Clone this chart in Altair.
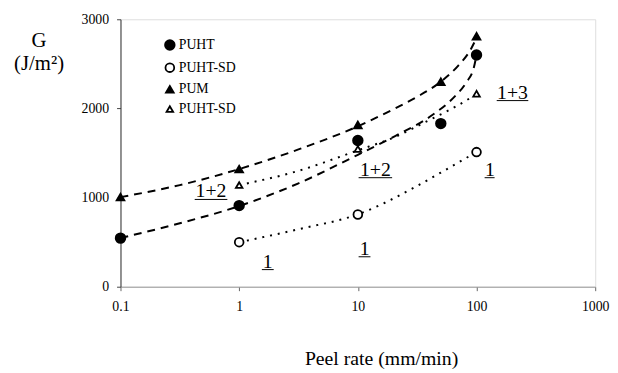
import altair as alt
import pandas as pd

# ---- measured points ----
series_keys = ["s1", "s2", "s3", "s4"]
series_names = ["PUHT", "PUHT-SD", "PUM", "PUHT-SD"]
series_shapes = ["circle", "circle", "triangle-up", "triangle-up"]
series_fills = ["black", "white", "black", "white"]
series_strokes = ["black", "black", "black", "black"]
series_sizes = [95, 45, 95, 62]

rate_s1 = [0.1, 1, 10, 50, 100]
g_s1 = [545, 910, 1640, 1830, 2600]
rate_s2 = [1, 10, 100]
g_s2 = [500, 810, 1510]
rate_s3 = [0.1, 1, 10, 50, 100]
g_s3 = [1005, 1320, 1815, 2300, 2810]
rate_s4 = [1, 10, 100]
g_s4 = [1140, 1545, 2165]

# ---- trend curves ----
curve_pum_x = [0.1, 0.316, 1, 3.16, 10, 20.6, 31.6, 50, 70.2, 88.3, 100]
curve_pum_g = [1005, 1140, 1320, 1540, 1800, 2000, 2130, 2300, 2480, 2650, 2790]
curve_puht_x = [0.1, 0.316, 1, 3.16, 10, 20.6, 41.8, 65, 81.8, 95.4, 100]
curve_puht_g = [546, 712, 905, 1160, 1480, 1690, 1920, 2130, 2290, 2470, 2600]
curve_tri_x = [1, 3.16, 10, 20.6, 38.7, 68.7, 100]
curve_tri_g = [1140, 1300, 1530, 1680, 1860, 2030, 2160]
curve_circ_x = [1, 3.16, 10, 31.6, 50, 100]
curve_circ_g = [499, 645, 812, 1130, 1280, 1511]

# ---- annotation labels ----
lab_text = ["1+2", "1+2", "1+3", "1", "1", "1"]
lab_x = [0.579, 14.05, 201, 129.5, 1.74, 11.4]
lab_g = [1012, 1245, 2110, 1245, 214, 358]
lab_x1 = [0.422, 10.15, 148, 117, 1.553, 10.15]
lab_x2 = [0.795, 19.45, 273, 142, 1.954, 12.77]
lab_gu = [979, 1223, 2088, 1223, 192, 336]

FONT = "Liberation Serif, Times New Roman, DejaVu Serif, serif"

rows = []
for key, xs, gs in [("s1", rate_s1, g_s1), ("s2", rate_s2, g_s2),
                    ("s3", rate_s3, g_s3), ("s4", rate_s4, g_s4)]:
    for x, g in zip(xs, gs):
        rows.append({"rate": x, "G": g, "series": key})
pts = pd.DataFrame(rows)

crow = []
for cid, style, xs, gs in [("pum", "dash", curve_pum_x, curve_pum_g),
                           ("puht", "dash", curve_puht_x, curve_puht_g),
                           ("tri", "dot", curve_tri_x, curve_tri_g),
                           ("circ", "dot", curve_circ_x, curve_circ_g)]:
    for i, (x, g) in enumerate(zip(xs, gs)):
        crow.append({"rate": x, "G": g, "curve": cid, "style": style, "order": i})
curves = pd.DataFrame(crow)

labs = pd.DataFrame({"text": lab_text, "rate": lab_x, "G": lab_g,
                     "x1": lab_x1, "x2": lab_x2, "gu": lab_gu})

xscale = alt.Scale(type="log", domain=[0.1, 1000], nice=False)
yscale = alt.Scale(domain=[0, 3000], nice=False)

xaxis = alt.Axis(values=[0.1, 1, 10, 100, 1000], format="~g", grid=False,
                 title="Peel rate (mm/min)", titleFont=FONT, titleFontSize=20,
                 titleFontWeight="normal", titleColor="black",
                 titleX=264, titleY=79, titleBaseline="alphabetic", titleAnchor="start",
                 titleAlign="center",
                 labelFont=FONT, labelFontSize=14, labelColor="black",
                 labelPadding=9, tickSize=4, tickColor="#666",
                 domainColor="#999", labelFlush=False)
yaxis = alt.Axis(values=[0, 1000, 2000, 3000], format="d", grid=False,
                 title=["G", "(J/m²)"], titleFont=FONT, titleFontSize=21,
                 titleFontWeight="normal", titleColor="black", titleAngle=0,
                 titleX=-83, titleY=28, titleAlign="center", titleBaseline="alphabetic",
                 titleLineHeight=23, titleAnchor="start",
                 labelFont=FONT, labelFontSize=14, labelColor="black",
                 labelPadding=8, tickSize=4, tickColor="#444", domainColor="#333")

base_x = alt.X("rate:Q", scale=xscale, axis=xaxis)
base_y = alt.Y("G:Q", scale=yscale, axis=yaxis)

dashed = alt.Chart(curves).transform_filter(alt.datum.style == "dash").mark_line(
    color="black", strokeWidth=2, strokeDash=[8, 6], interpolate="monotone"
).encode(x=base_x, y=base_y, detail="curve:N", order="order:Q")

dotted = alt.Chart(curves).transform_filter(alt.datum.style == "dot").mark_line(
    color="black", strokeWidth=2, strokeDash=[2, 6], interpolate="monotone"
).encode(x=base_x, y=base_y, detail="curve:N", order="order:Q")

label_expr = " : ".join(
    f"datum.label == '{k}' ? '{n}'" for k, n in zip(series_keys, series_names)
) + " : datum.label"
legend = alt.Legend(orient="none", legendX=43, legendY=19, title="",
                    labelFont=FONT, labelFontSize=14, labelColor="black",
                    labelExpr=label_expr, symbolStrokeColor="black",
                    symbolStrokeWidth=1.8, rowPadding=5, labelOffset=2)

points = alt.Chart(pts).mark_point(strokeWidth=1.8, opacity=1).encode(
    x=base_x, y=base_y,
    shape=alt.Shape("series:N", scale=alt.Scale(domain=series_keys, range=series_shapes), legend=legend),
    fill=alt.Fill("series:N", scale=alt.Scale(domain=series_keys, range=series_fills), legend=legend),
    stroke=alt.Stroke("series:N", scale=alt.Scale(domain=series_keys, range=series_strokes), legend=legend),
    size=alt.Size("series:N", scale=alt.Scale(domain=series_keys, range=series_sizes), legend=legend),
)

texts = alt.Chart(labs).mark_text(font=FONT, fontSize=20, color="black",
                                  align="center", baseline="alphabetic").encode(
    x=alt.X("rate:Q", scale=xscale), y=alt.Y("G:Q", scale=yscale), text="text:N")

unders = alt.Chart(labs).mark_rule(color="black", strokeWidth=1).encode(
    x=alt.X("x1:Q", scale=xscale), x2="x2:Q", y=alt.Y("gu:Q", scale=yscale))

chart = alt.layer(dashed, dotted, points, texts, unders).properties(
    width=481, height=271,
    autosize=alt.AutoSizeParams(type="none"),
    padding={"left": 114, "top": 9, "right": 15, "bottom": 85},
).configure_view(stroke="#888", strokeWidth=1).configure(background="white")

chart.save("out.html", embed_options={"renderer": "svg", "actions": False})
